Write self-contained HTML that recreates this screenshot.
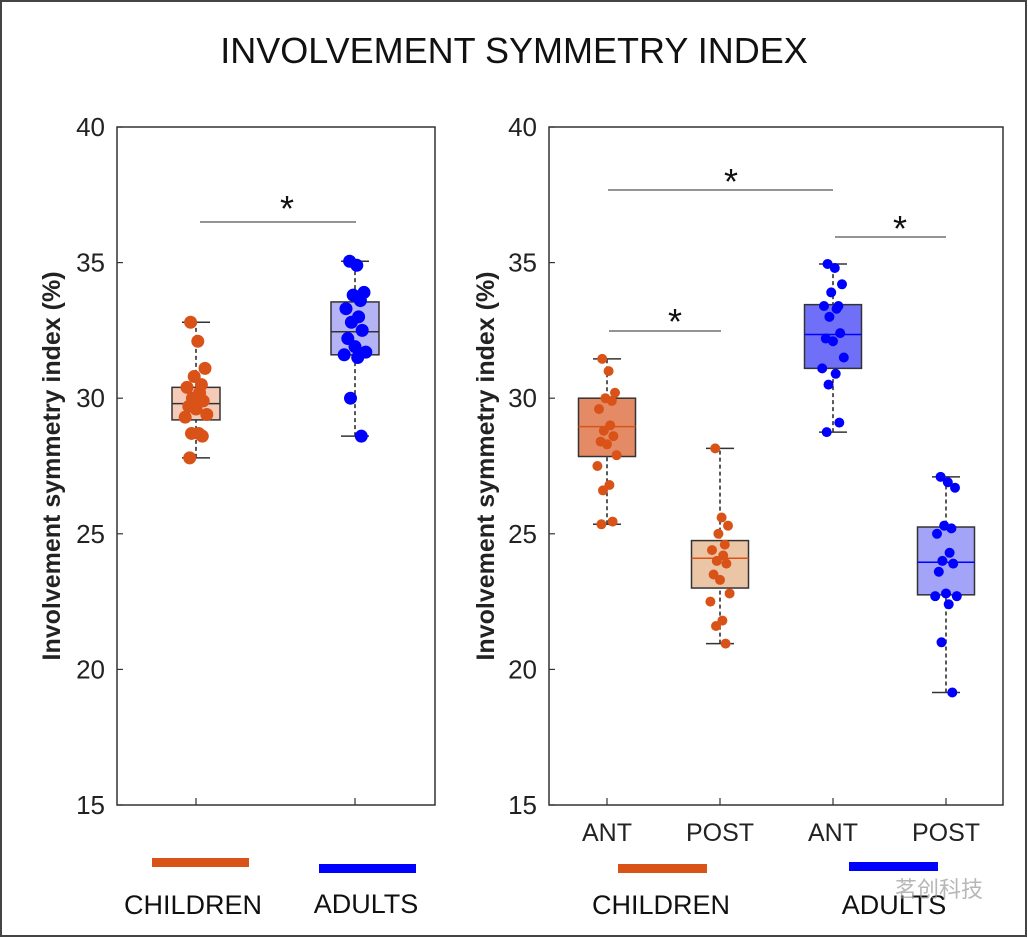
<!DOCTYPE html>
<html><head><meta charset="utf-8">
<style>
html,body{margin:0;padding:0;background:#fff;}
svg{display:block;font-family:"Liberation Sans",sans-serif;}
</style></head>
<body>
<svg id="chart" width="1028" height="938" viewBox="0 0 1028 938" xmlns="http://www.w3.org/2000/svg">
<rect x="1" y="1" width="1025" height="935" fill="#fff" stroke="#444" stroke-width="2"/>
<text x="514" y="63" text-anchor="middle" font-size="36" fill="#111">INVOLVEMENT SYMMETRY INDEX</text>
<g id="left"></g>
<g id="right"></g>
<text x="895" y="897" font-size="22" fill="#999" opacity="0.7" font-family="'Liberation Sans','Noto Sans CJK SC',sans-serif">茗创科技</text>
</svg>
<script>
const yTicks = [15, 20, 25, 30, 35, 40];
// left panel data
const leftGroups = ['CHILDREN', 'ADULTS'];
const leftChildren = [32.8,32.1,31.1,30.8,30.5,30.4,30.2,30.0,29.9,29.7,29.6,29.4,29.3,28.7,28.7,28.6,27.8];
const leftAdults = [35.05,34.9,33.9,33.8,33.6,33.3,33.0,32.8,32.5,32.2,31.9,31.7,31.6,31.5,30.0,28.6];
const leftChildrenStats = [27.8,29.2,29.8,30.4,32.8];
const leftAdultsStats = [28.6,31.6,32.45,33.55,35.05];
// right panel data
const rightCats = ['ANT','POST','ANT','POST'];
const rAntChildren = [31.45,31.0,30.2,30.0,29.9,29.6,29.0,28.8,28.6,28.4,28.3,27.9,27.5,26.8,26.6,25.45,25.35];
const rPostChildren = [28.15,25.6,25.3,25.0,24.6,24.4,24.2,24.0,23.9,23.5,23.3,22.8,22.5,21.8,21.6,20.95];
const rAntAdults = [34.95,34.8,34.2,33.9,33.4,33.4,33.3,33.0,32.4,32.2,32.1,31.5,31.1,30.9,30.5,29.1,28.75];
const rPostAdults = [27.1,26.9,26.7,25.3,25.2,25.0,24.3,24.0,23.9,23.6,22.8,22.7,22.7,22.4,21.0,19.15];
const rStats = [[25.35,27.85,28.95,30.0,31.45],[20.95,23.0,24.1,24.75,28.15],[28.75,31.1,32.35,33.45,34.95],[19.15,22.75,23.95,25.25,27.1]];
const jitter = [-0.3,0.1,0.5,-0.1,0.3,-0.5,0.2,-0.2,0.4,-0.4,0.0,0.6,-0.6,0.15,-0.25,0.35,-0.35];

const NS='http://www.w3.org/2000/svg';
function mk(parent, tag, attrs){const e=document.createElementNS(NS,tag);for(const k in attrs)e.setAttribute(k,attrs[k]);parent.appendChild(e);return e;}
const Y0=805, Y1=127;
function yS(v){return Y0-(v-15)/(40-15)*(Y0-Y1);}

function drawAxes(g, x0, x1, ticksX, labels, labX){
  const ax=mk(g,'rect',{x:x0,y:Y1,width:x1-x0,height:Y0-Y1,fill:'none',stroke:'#333','stroke-width':1.5});
  
  
  yTicks.forEach(t=>{
    const l=mk(g,'line',{x1:x0,x2:x0+6,y1:yS(t),y2:yS(t),stroke:'#333','stroke-width':1.2});
    
    
    const tx=mk(g,'text',{x:x0-12,y:yS(t)+9,'text-anchor':'end','font-size':26,fill:'#222'});
    tx.textContent=t;
    
    
  });
  ticksX.forEach((x,i)=>{
    const l=mk(g,'line',{x1:x,x2:x,y1:Y0,y2:Y0-7,stroke:'#333','stroke-width':1.2});
    
    
    if(labels){
      const tx=mk(g,'text',{x:x,y:841,'text-anchor':'middle','font-size':25,fill:'#222'});
      tx.textContent=labels[i];
      
      
    }
  });
  const yl=mk(g,'text',{x:labX,y:yS(27.5),'text-anchor':'middle','font-size':25,'font-weight':'bold',fill:'#222',transform:`rotate(-90 ${labX} ${yS(27.5)})`});
  yl.textContent='Involvement symmetry index (%)';
  
  
}

function drawBox(g, cx, w, st, fill, medColor, pts, color, r, jw){
  const wl=mk(g,'line',{x1:cx,x2:cx,y1:yS(st[0]),y2:yS(st[4]),stroke:'#222','stroke-width':1.5,'stroke-dasharray':'4,3'});
  
  
  [st[0],st[4]].forEach(v=>{
    const c=mk(g,'line',{x1:cx-14,x2:cx+14,y1:yS(v),y2:yS(v),stroke:'#333','stroke-width':1.5});
    
    
  });
  const b=mk(g,'rect',{x:cx-w/2,y:yS(st[3]),width:w,height:yS(st[1])-yS(st[3]),fill:fill,stroke:'#333','stroke-width':1.5});
  
  
  const m=mk(g,'line',{x1:cx-w/2,x2:cx+w/2,y1:yS(st[2]),y2:yS(st[2]),stroke:medColor,'stroke-width':1.5});
  
  
  pts.forEach((v,i)=>{
    const p=mk(g,'circle',{cx:cx+jitter[i%jitter.length]*jw,cy:yS(v),r:r,fill:color});
    
    
  });
}

function sig(g,x1,x2,y,sx,sy){
  const l=mk(g,'line',{x1:x1,x2:x2,y1:y,y2:y,stroke:'#555','stroke-width':1.3});
  
  
  const t=mk(g,'text',{x:sx,y:sy+4,'text-anchor':'middle','font-size':36,fill:'#111'});
  t.textContent='*';
  
  
}
function legend(g,x,y,w,color,label,lx,ly){
  const r=mk(g,'rect',{x:x,y:y,width:w,height:9,fill:color});
  
  
  const t=mk(g,'text',{x:lx,y:ly,'text-anchor':'middle','font-size':27,fill:'#111'});
  t.textContent=label;
  
  
}

const L=document.getElementById('left'), R=document.getElementById('right');
const OR='#D95319', BL='#0000FF';
drawAxes(L,117,435,[196,355],null,60);
drawBox(L,196,48,leftChildrenStats,'#F5CBB8','#333',leftChildren,OR,6.5,18);
drawBox(L,355,48,leftAdultsStats,'#B3B3F5','#333',leftAdults,BL,6.5,18);
sig(L,200,356,222,287,217);
legend(L,152,858,97,OR,leftGroups[0],193,914);
legend(L,319,864,97,BL,leftGroups[1],366,913);

drawAxes(R,549,1003,[607,720,833,946],rightCats,494);
drawBox(R,607,57,rStats[0],'#E48B66',OR,rAntChildren,OR,5,16);
drawBox(R,720,57,rStats[1],'#EBC6A6',OR,rPostChildren,OR,5,16);
drawBox(R,833,57,rStats[2],'#6F6FF8',BL,rAntAdults,BL,5,18);
drawBox(R,946,57,rStats[3],'#A3A3F8',BL,rPostAdults,BL,5,18);
sig(R,608,833,190,731,190);
sig(R,835,946,237,900,237);
sig(R,609,721,331,675,330);
legend(R,618,864,89,OR,'CHILDREN',661,914);
legend(R,849,862,89,BL,'ADULTS',894,914);
</script>
</body></html>
